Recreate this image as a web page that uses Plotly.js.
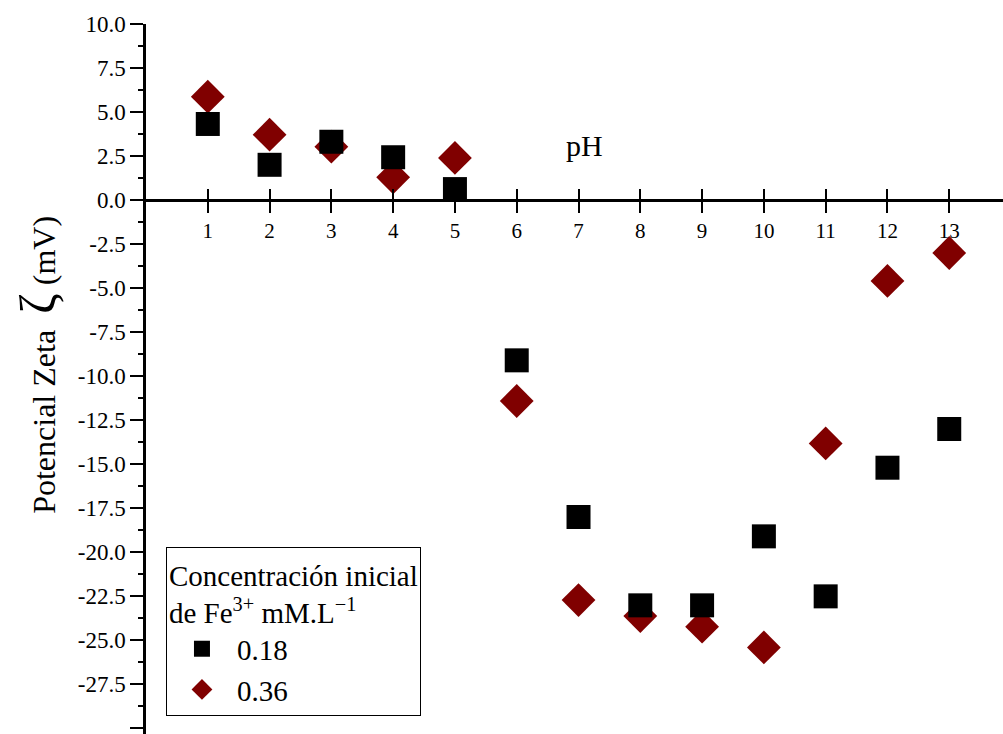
<!DOCTYPE html>
<html>
<head>
<meta charset="utf-8">
<script src="https://cdn.plot.ly/plotly-3.0.1.min.js"></script>
<style>html,body{margin:0;padding:0;background:#fff;}#chart{width:1003px;height:734px;}</style>
</head>
<body>
<div id="chart"></div>
<script>
const pH = [1, 2, 3, 4, 5, 6, 7, 8, 9, 10, 11, 12, 13];
const zeta018 = [4.32, 2.0, 3.31, 2.43, 0.62, -9.11, -18.01, -23.03, -23.03, -19.11, -22.52, -15.21, -13.01];
const zeta036 = [5.87, 3.71, 3.03, 1.29, 2.39, -11.42, -22.73, -23.64, -24.24, -25.42, -13.83, -4.60, -3.01];
const seriesNames = ['0.18', '0.36'];
const yTickVals = [10, 7.5, 5, 2.5, 0, -2.5, -5, -7.5, -10, -12.5, -15, -17.5, -20, -22.5, -25, -27.5, -30];
const yTickText = ['10.0', '7.5', '5.0', '2.5', '0.0', '-2.5', '-5.0', '-7.5', '-10.0', '-12.5', '-15.0', '-17.5', '-20.0', '-22.5', '-25.0', '-27.5', '-30.0'];
const yMinorTickVals = [8.75, 6.25, 3.75, 1.25, -1.25, -3.75, -6.25, -8.75, -11.25, -13.75, -16.25, -18.75, -21.25, -23.75, -26.25, -28.75];
const xTickVals = pH;
const xTickText = pH.map(String);
const yTitle = 'Potencial Zeta&nbsp;&nbsp;<span style="font-size:50px">ζ</span>&nbsp;(mV)';
const xTitle = 'pH';
const legendTitle = 'Concentración inicial<br>de Fe<sup>3+</sup> mM.L<sup>−1</sup>';

const FONT = 'Liberation Serif';
const yRange = [-30.34, 10];
const xRange = [0, 13.87];
const zeroPos = (0 - yRange[0]) / (yRange[1] - yRange[0]);

const traces = [
  {x: pH, y: zeta036, name: seriesNames[1], legendrank: 2, mode: 'markers', type: 'scatter',
   xaxis: 'x', yaxis: 'y',
   marker: {symbol: 'diamond', size: 26, color: '#800000'}},
  {x: pH, y: zeta018, name: seriesNames[0], legendrank: 1, mode: 'markers', type: 'scatter',
   xaxis: 'x2', yaxis: 'y2',
   marker: {symbol: 'square', size: 24, color: '#000000'}}
];

const layout = {
  width: 1003, height: 734,
  margin: {l: 146, r: 0, t: 24, b: 0, pad: 0},
  paper_bgcolor: '#fff', plot_bgcolor: '#fff',
  font: {family: FONT, color: '#000', size: 22},
  showlegend: true,
  legend: {
    x: 0.0233, y: 0.2634, xanchor: 'left', yanchor: 'top',
    bordercolor: '#000', borderwidth: 1, bgcolor: '#fff',
    font: {family: FONT, size: 29, color: '#000'},
    title: {text: legendTitle, font: {family: FONT, size: 29, color: '#000'}},
    traceorder: 'normal', itemsizing: 'trace', itemwidth: 60
  },
  xaxis: {
    range: xRange, anchor: 'free', position: zeroPos,
    showline: true, linecolor: '#000', linewidth: 2.5,
    ticks: 'outside', ticklen: 11, tickwidth: 2, tickcolor: '#000',
    tickmode: 'array', tickvals: xTickVals, ticktext: xTickText,
    tickfont: {family: FONT, size: 21, color: '#000'},
    showgrid: false, zeroline: false
  },
  xaxis2: {
    range: xRange, overlaying: 'x', anchor: 'free', position: zeroPos,
    showline: false,
    ticks: 'inside', ticklen: 11, tickwidth: 2, tickcolor: '#000',
    tickmode: 'array', tickvals: xTickVals, showticklabels: false,
    showgrid: false, zeroline: false
  },
  yaxis: {
    range: yRange,
    showline: true, linecolor: '#000', linewidth: 2.5,
    ticks: 'outside', ticklen: 13, tickwidth: 2, tickcolor: '#000',
    tickmode: 'array', tickvals: yTickVals, ticktext: yTickText,
    tickfont: {family: FONT, size: 23, color: '#000'},
    showgrid: false, zeroline: false
  },
  yaxis2: {
    range: yRange, overlaying: 'y', side: 'left', anchor: 'x',
    showline: false,
    ticks: 'outside', ticklen: 7, tickwidth: 2, tickcolor: '#000',
    tickmode: 'array', tickvals: yMinorTickVals, showticklabels: false,
    showgrid: false, zeroline: false
  },
  annotations: [
    {x: 7.1, y: 3.1, xref: 'x', yref: 'y', text: xTitle, showarrow: false,
     font: {family: FONT, size: 30, color: '#000'}},
    {x: -0.126, y: 0.52, xref: 'paper', yref: 'paper', text: yTitle, showarrow: false,
     textangle: -90, xanchor: 'center', yanchor: 'middle',
     font: {family: FONT, size: 32, color: '#000'}}
  ]
};

Plotly.newPlot('chart', traces, layout, {displayModeBar: false});
</script>
</body>
</html>
